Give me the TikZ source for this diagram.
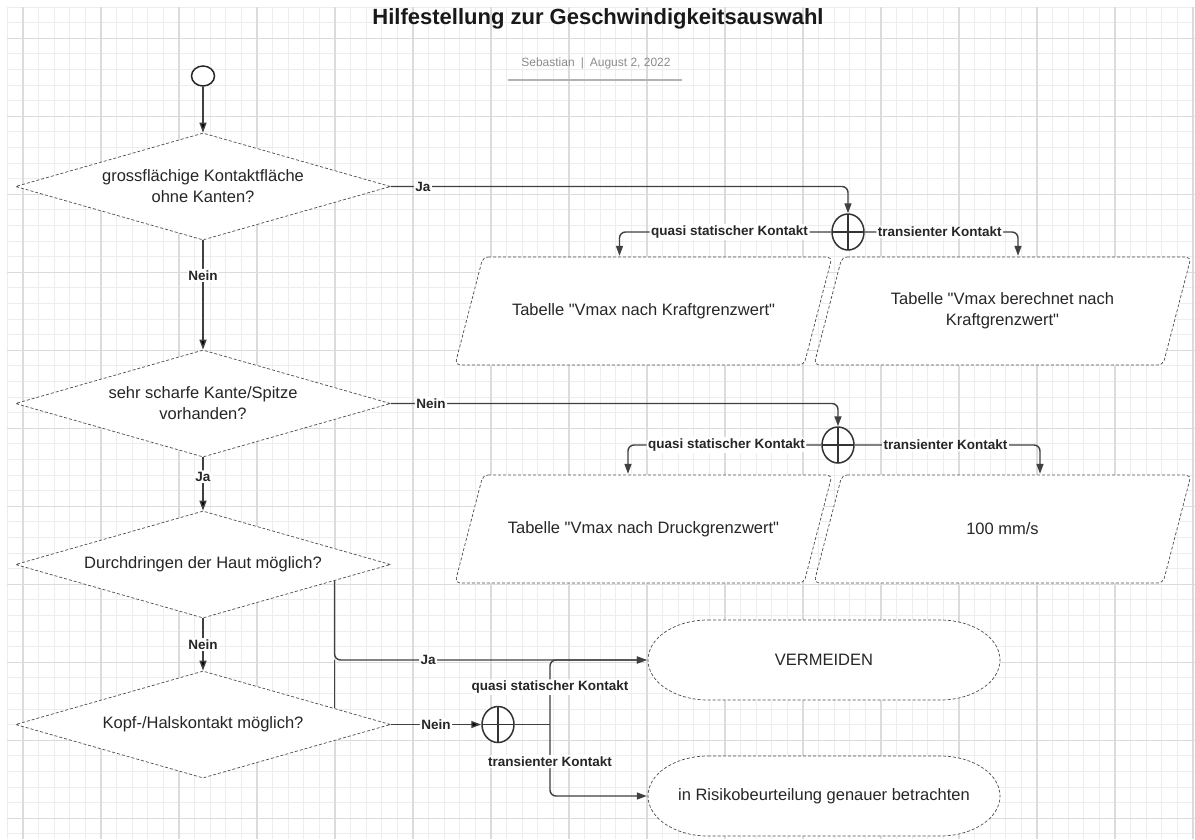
\documentclass[tikz,border=0pt]{standalone}
\usepackage{fontspec}
\setmainfont{Liberation Sans}
\usetikzlibrary{shapes.geometric, arrows.meta}

\tikzset{
  gridminor/.style={draw=black!7, line width=0.8pt},
  gridmajor/.style={draw=black!14, line width=1.1pt},
  shapeline/.style={draw=black!70, densely dashed, line width=0.7pt, fill=white},
  decision/.style={diamond, aspect=3.5, minimum width=375pt, minimum height=107pt, inner sep=0pt,
    shapeline, align=center, text=black!85, font=\fontsize{16.5}{21}\selectfont},
  datatab/.style={rectangle, minimum width=379pt, minimum height=110pt, inner sep=0pt,
    align=center, text=black!85, font=\fontsize{16.5}{21}\selectfont,
    path picture={
      \draw[shapeline, rounded corners=5pt] ([shift={(29,1)}]path picture bounding box.north west)
        -- ([shift={(-1,1)}]path picture bounding box.north east)
        -- ([shift={(-29,-1)}]path picture bounding box.south east)
        -- ([shift={(1,-1)}]path picture bounding box.south west)
        -- cycle;}},
  junction/.style={ellipse, minimum width=32pt, minimum height=36pt, inner sep=0pt,
    draw=black!80, line width=1.5pt, fill=white,
    path picture={\draw[line width=1.2pt, black!80]
      (path picture bounding box.north) -- (path picture bounding box.south)
      (path picture bounding box.west) -- (path picture bounding box.east);}},
  startnode/.style={ellipse, minimum width=23pt, minimum height=20pt, inner sep=0pt,
    draw=black!85, line width=1.5pt, fill=white},
  terminal/.style={rectangle, minimum width=354pt, minimum height=82pt, inner sep=0pt,
    align=center, text=black!85, font=\fontsize{16.5}{20}\selectfont,
    path picture={
      \draw[shapeline] ([shift={(61,1)}]path picture bounding box.north west)
        -- ([shift={(-61,1)}]path picture bounding box.north east)
        arc[start angle=-90, end angle=90, x radius=60, y radius=40]
        -- ([shift={(61,-1)}]path picture bounding box.south west)
        arc[start angle=90, end angle=270, x radius=60, y radius=40]
        -- cycle;}},
  line/.style={draw=black!75, line width=1.4pt, rounded corners=6pt},
  arr/.style={line, -{Triangle[length=10pt, width=7pt]}},
  lbl/.style={fill=white, inner sep=1.5pt, text=black!85, font=\bfseries\fontsize{13.5}{15}\selectfont},
}

\begin{document}
\begin{tikzpicture}[x=1pt, y=-1pt]

	\useasboundingbox (0,0) rectangle (1195,839);
	\fill[white] (0,0) rectangle (1195,839);

	% background grid
	\foreach \i in {0,...,76}
		\draw[gridminor] (7.4+15.6*\i, 7) -- (7.4+15.6*\i, 839);
	\foreach \j in {0,...,53}
		\draw[gridminor] (7, 7+15.6*\j) -- (1195, 7+15.6*\j);
	\foreach \i in {0,...,15}
		\draw[gridmajor] (23+78*\i, 7) -- (23+78*\i, 839);
	\foreach \j in {0,...,10}
		\draw[gridmajor] (7, 38.2+78*\j) -- (1195, 38.2+78*\j);

	\node (title) [font=\bfseries\fontsize{22}{26}\selectfont, text=black!90] at (598, 19) {Hilfestellung zur Geschwindigkeitsauswahl};
	\node (meta) [font=\fontsize{12}{14}\selectfont, text=black!45] at (596, 63) {Sebastian\enspace|\enspace August 2, 2022};
	\draw[black!30, line width=2pt] ([shift={(-10,8)}]meta.south west) -- ([shift={(8,8)}]meta.south east);

	\node (start) [startnode] at (203, 76) {};
	\node (d1) [decision] at (203, 186.5) {grossflächige Kontaktfläche\\ohne Kanten?};
	\node (d2) [decision] at (203, 403.5) {sehr scharfe Kante/Spitze\\vorhanden?};
	\node (d3) [decision] at (203, 564.5) {Durchdringen der Haut möglich?};
	\node (d4) [decision] at (203, 724.5) {Kopf-/Halskontakt möglich?};

	\node (j1) [junction] at (848, 232) {};
	\node (j2) [junction] at (838, 445) {};
	\node (j3) [junction] at (498, 724.5) {};

	\node (p1) [datatab] at (643.5, 311) {Tabelle \textquotedbl Vmax nach Kraftgrenzwert\textquotedbl};
	\node (p2) [datatab] at (1002.5, 311) {Tabelle \textquotedbl Vmax berechnet nach\\Kraftgrenzwert\textquotedbl};
	\node (p3) [datatab] at (643.5, 529) {Tabelle \textquotedbl Vmax nach Druckgrenzwert\textquotedbl};
	\node (p4) [datatab] at (1002.5, 529) {100 mm/s};

	\node (t1) [terminal] at (824, 660) {VERMEIDEN};
	\node (t2) [terminal] at (824, 796) {in Risikobeurteilung genauer betrachten};

	\coordinate (split) at (550, 724.5);

	\path[arr]
	(start) edge (d1)
	(d1) edge node[lbl, pos=0.32] {Nein} (d2)
	(d2) edge node[lbl, pos=0.36] {Ja} (d3)
	(d3) edge node[lbl] {Nein} (d4)
	(d4) edge node[lbl] {Nein} (j3);

	\draw[arr] (d1.east) -| node[lbl, pos=0.035] {Ja} (j1.north);
	\draw[arr] (j1.west) -| node[lbl, pos=0.24] {quasi statischer Kontakt} ([xshift=-24pt]p1.north);
	\draw[arr] (j1.east) -| node[lbl, pos=0.245] {transienter Kontakt} ([xshift=15.5pt]p2.north);

	\draw[arr] (d2.east) -| node[lbl, pos=0.045] {Nein} (j2.north);
	\draw[arr] (j2.west) -| node[lbl, pos=0.245] {quasi statischer Kontakt} ([xshift=-15.5pt]p3.north);
	\draw[arr] (j2.east) -| node[lbl, pos=0.245] {transienter Kontakt} ([xshift=37.5pt]p4.north);

	\draw[arr] (d3.-7) |- node[lbl, pos=0.65] {Ja} (t1.west);
	\draw[line] (d4.7) -- (d4.7 |- t1.west);
	\draw[line] (j3) -- (split);
	\draw[arr] (split) |- node[lbl, pos=0.29] {quasi statischer Kontakt} (t1.west);
	\draw[arr] (split) |- node[lbl, pos=0.26] {transienter Kontakt} (t2.west);

\end{tikzpicture}
\end{document}
